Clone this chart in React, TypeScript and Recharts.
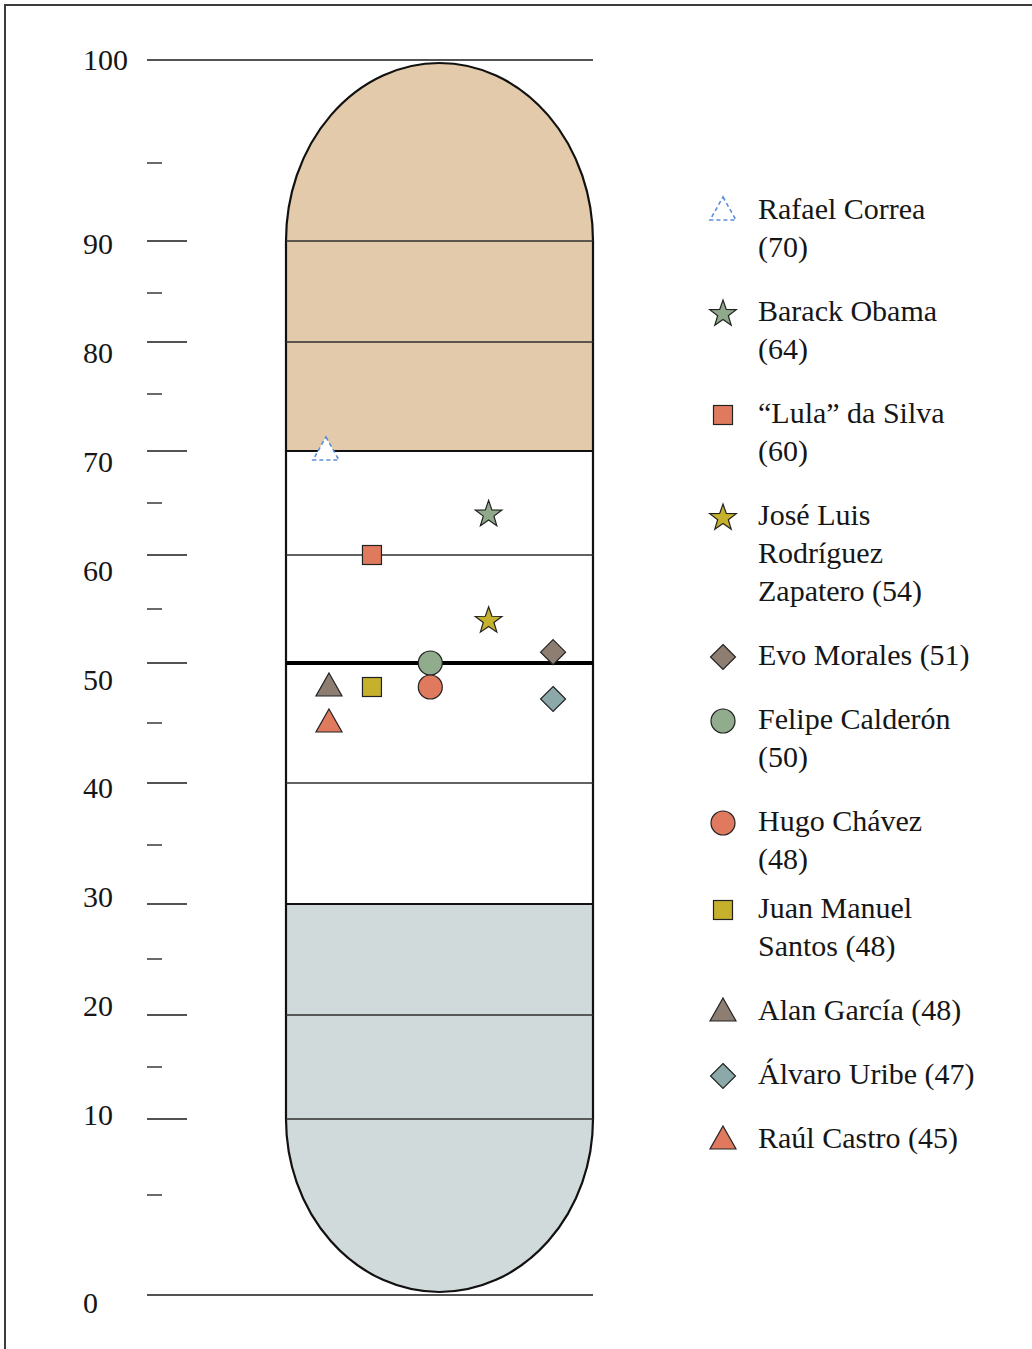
import React from 'react';
import { ScatterChart, Scatter, XAxis, YAxis, ReferenceArea, ReferenceLine, Legend } from 'recharts';

// ---------- data ----------
const LEADERS = [
  'Rafael Correa',
  'Barack Obama',
  '“Lula” da Silva',
  'José Luis Rodríguez Zapatero',
  'Evo Morales',
  'Felipe Calderón',
  'Hugo Chávez',
  'Juan Manuel Santos',
  'Alan García',
  'Álvaro Uribe',
  'Raúl Castro',
];
const APPROVAL = [70, 64, 60, 54, 51, 50, 48, 48, 48, 47, 45];
// horizontal placement inside the capsule (0-100)
const COLUMN = [13, 66, 28, 66, 87, 47, 47, 28, 14, 87, 14];
const SYMBOLS = ['triangle', 'star', 'square', 'star', 'diamond', 'circle', 'circle', 'square', 'triangle', 'diamond', 'triangle'];
// words per legend line
const LEGEND_WRAP = [[2, 1], [2, 1], [3, 1], [2, 1, 2], [3], [2, 1], [2, 1], [2, 2], [3], [3], [3]];

const MAJOR_TICKS = [0, 10, 20, 30, 40, 50, 60, 70, 80, 90, 100];
const MINOR_TICKS = [5, 15, 25, 35, 45, 55, 65, 75, 85, 95];
const GRID_LINES = [10, 20, 30, 40, 50, 60, 70, 80, 90];
// relative spacing of each 5-point step of the (non-linear) scale, bottom to top
const SCALE_GAPS = [100, 76, 52, 52, 56, 55, 59, 62, 60, 60, 54, 54, 52, 52, 57, 52, 49, 52, 78, 103];
// positions of the number labels as fraction of the axis height
const LABEL_KNOTS: [number, number][] = [[0, -0.0065], [10, 0.1457], [90, 0.851], [100, 1]];

// ---------- styles ----------
const W = 1032;
const H = 1349;
const AXIS_W = 1;
const MARGIN = { top: 60, right: 439, bottom: 54, left: 286 - 2 * AXIS_W };
const PLOT_RIGHT = W - MARGIN.right;
const FONT = '"Liberation Serif", "Times New Roman", serif';
const TEXT = '#161616';
const TAN = '#E3CAAA';
const BLUE = '#D1DADA';
const OUTLINE = '#111111';
const AXIS_X = 147;
const MAJOR_LEN = 40;
const MINOR_LEN = 15;
const LABEL_X = 83;
const CAP_GAP = 3;
const FILLS = ['#FFFFFF', '#8FA98A', '#E07A5F', '#C5B12C', '#8E7E72', '#90AC8C', '#E07A5F', '#C5B12C', '#8E7E72', '#8AA9A8', '#E07A5F'];
const STROKES = ['#5B8ED8', '#222', '#222', '#222', '#222', '#222', '#222', '#222', '#222', '#222', '#222'];
const DASHES = ['4 3', undefined, undefined, undefined, undefined, undefined, undefined, undefined, undefined, undefined, undefined];
const LEGEND_GAP = [26, 26, 26, 26, 26, 26, 11, 26, 26, 26, 0];

// ---------- piecewise-linear scale (d3-like interface) ----------
type Knot = [number, number];
function piecewiseScale(knots: Knot[]): any {
  let dom = [knots[0][0], knots[knots.length - 1][0]];
  let rng = [0, 1];
  const frac = (v: number) => {
    let i = 0;
    while (i < knots.length - 2 && v > knots[i + 1][0]) i++;
    const [v0, f0] = knots[i];
    const [v1, f1] = knots[i + 1];
    return f0 + ((v - v0) / (v1 - v0)) * (f1 - f0);
  };
  const scale: any = (v: any) => {
    const n = typeof v === 'number' ? v : Number(v);
    if (v == null || Number.isNaN(n)) return NaN;
    return rng[0] + frac(n) * (rng[1] - rng[0]);
  };
  scale.domain = (...args: any[]) => {
    if (!args.length) return dom.slice();
    dom = Array.from(args[0], Number);
    return scale;
  };
  scale.range = (...args: any[]) => {
    if (!args.length) return rng.slice();
    rng = Array.from(args[0], Number);
    return scale;
  };
  scale.copy = () => piecewiseScale(knots).domain(dom).range(rng);
  scale.ticks = (count = 10) => {
    const lo = Math.min(dom[0], dom[1]);
    const hi = Math.max(dom[0], dom[1]);
    const step = (hi - lo) / count;
    return Array.from({ length: count + 1 }, (_, i) => lo + i * step);
  };
  return scale;
}

const totalGap = SCALE_GAPS.reduce((a, b) => a + b, 0);
const MAIN_KNOTS: Knot[] = [[0, 0]];
SCALE_GAPS.reduce((acc, g, i) => {
  const next = acc + g;
  MAIN_KNOTS.push([(i + 1) * 5, next / totalGap]);
  return next;
}, 0);

const mainScale = piecewiseScale(MAIN_KNOTS);
const labelScale = piecewiseScale(LABEL_KNOTS);
const MAIN_TICKS = [...MAJOR_TICKS, ...MINOR_TICKS].sort((a, b) => a - b);

// ---------- marks ----------
function starPoints(cx: number, cy: number, R: number, r: number) {
  const pts: string[] = [];
  for (let k = 0; k < 10; k++) {
    const rad = k % 2 === 0 ? R : r;
    const a = -Math.PI / 2 + (k * Math.PI) / 5;
    pts.push(`${cx + rad * Math.cos(a)},${cy + rad * Math.sin(a)}`);
  }
  return pts.join(' ');
}

function Marker({ i, cx, cy }: { i: number; cx: number; cy: number }) {
  const common = {
    fill: FILLS[i],
    stroke: STROKES[i],
    strokeWidth: DASHES[i] ? 1.6 : 1.2,
    strokeDasharray: DASHES[i],
    strokeLinejoin: 'miter' as const,
  };
  switch (SYMBOLS[i]) {
    case 'triangle':
      return <polygon points={`${cx},${cy - 14} ${cx + 13},${cy + 9} ${cx - 13},${cy + 9}`} {...common} />;
    case 'star':
      return <polygon points={starPoints(cx, cy + 1, 14, 5.6)} {...common} />;
    case 'square':
      return <rect x={cx - 9.5} y={cy - 9.5} width={19} height={19} {...common} />;
    case 'diamond':
      return <polygon points={`${cx},${cy - 12.5} ${cx + 12.5},${cy} ${cx},${cy + 12.5} ${cx - 12.5},${cy}`} {...common} />;
    default:
      return <circle cx={cx} cy={cy} r={12} {...common} />;
  }
}

// ---------- capsule pieces ----------
const TopCap = (p: any) => {
  const { x, y, width, height } = p;
  const yb = y + height;
  const d = `M${x},${yb} A${width / 2},${height - CAP_GAP} 0 0 1 ${x + width},${yb}`;
  return (
    <g>
      <path d={`${d} Z`} fill={TAN} stroke="none" />
      <path d={d} fill="none" stroke={OUTLINE} strokeWidth={2.2} />
    </g>
  );
};

const BottomCap = (p: any) => {
  const { x, y, width, height } = p;
  const d = `M${x},${y} A${width / 2},${height - CAP_GAP} 0 0 0 ${x + width},${y}`;
  return (
    <g>
      <path d={`${d} Z`} fill={BLUE} stroke="none" />
      <path d={d} fill="none" stroke={OUTLINE} strokeWidth={2.2} />
    </g>
  );
};

const Sides = (p: any) => {
  const { x, y, width, height } = p;
  return (
    <g>
      <line x1={x} x2={x} y1={y} y2={y + height} stroke={OUTLINE} strokeWidth={2.2} />
      <line x1={x + width} x2={x + width} y1={y} y2={y + height} stroke={OUTLINE} strokeWidth={2.2} />
    </g>
  );
};

const Band = (fill: string) => (p: any) => (
  <rect x={p.x} y={p.y} width={p.width} height={p.height} fill={fill} stroke="none" />
);

// ---------- axis ticks ----------
const AxisTick = (props: any) => {
  const { y, payload } = props;
  const v = payload.value;
  const major = v % 10 === 0;
  const end = v === 0 || v === 100 ? PLOT_RIGHT : AXIS_X + (major ? MAJOR_LEN : MINOR_LEN);
  return <line x1={AXIS_X} x2={end} y1={y} y2={y} stroke="#1a1a1a" strokeWidth={1.3} />;
};

const LabelTick = (props: any) => {
  const { y, payload } = props;
  return (
    <text x={LABEL_X} y={y} dy={10} textAnchor="start" fontFamily={FONT} fontSize={30} fill={TEXT}>
      {payload.value}
    </text>
  );
};

// ---------- legend ----------
const LegendBox = () => (
  <div style={{ fontFamily: FONT, fontSize: 30, lineHeight: '38px', color: TEXT, textAlign: 'left' }}>
    {LEADERS.map((name, i) => {
      const words = `${name} (${APPROVAL[i]})`.split(' ');
      const lines: string[] = [];
      let k = 0;
      for (const n of LEGEND_WRAP[i]) {
        lines.push(words.slice(k, k + n).join(' '));
        k += n;
      }
      return (
        <div key={name} style={{ display: 'flex', alignItems: 'flex-start', marginBottom: LEGEND_GAP[i] }}>
          <svg width={30} height={30} style={{ flex: 'none', marginTop: 6, overflow: 'visible' }}>
            <Marker i={i} cx={15} cy={15} />
          </svg>
          <div style={{ marginLeft: 20, whiteSpace: 'nowrap' }}>
            {lines.map((l, j) => (
              <div key={j}>{l}</div>
            ))}
          </div>
        </div>
      );
    })}
  </div>
);

const gridStyle = (v: number) =>
  v === 50 ? { stroke: '#000', strokeWidth: 4 } : v === 70 || v === 30 ? { stroke: OUTLINE, strokeWidth: 2.2 } : { stroke: '#2e2e2e', strokeWidth: 1.3 };

export default function App() {
  return (
    <div style={{ position: 'absolute', left: 0, top: 0, width: W, height: H, background: '#fff' }}>
      <ScatterChart width={W} height={H} margin={MARGIN} style={{ fontFamily: FONT }}>
        <XAxis type="number" dataKey="x" domain={[0, 100]} hide />
        <YAxis
          yAxisId="main"
          type="number"
          dataKey="y"
          domain={[0, 100]}
          allowDataOverflow
          scale={mainScale}
          ticks={MAIN_TICKS}
          interval={0}
          width={AXIS_W}
          axisLine={false}
          tickLine={false}
          tick={AxisTick}
        />
        <YAxis
          yAxisId="labels"
          type="number"
          dataKey="y"
          domain={[0, 100]}
          allowDataOverflow
          scale={labelScale}
          ticks={MAJOR_TICKS}
          interval={0}
          width={AXIS_W}
          axisLine={false}
          tickLine={false}
          tick={LabelTick}
        />
        <ReferenceArea yAxisId="main" y1={90} y2={100} shape={TopCap} ifOverflow="visible" />
        <ReferenceArea yAxisId="main" y1={70} y2={90} shape={Band(TAN)} ifOverflow="visible" />
        <ReferenceArea yAxisId="main" y1={10} y2={30} shape={Band(BLUE)} ifOverflow="visible" />
        <ReferenceArea yAxisId="main" y1={0} y2={10} shape={BottomCap} ifOverflow="visible" />
        <ReferenceArea yAxisId="main" y1={10} y2={90} shape={Sides} ifOverflow="visible" />
        {GRID_LINES.map((v) => (
          <ReferenceLine key={v} yAxisId="main" y={v} {...gridStyle(v)} ifOverflow="visible" />
        ))}
        <Legend
          layout="horizontal"
          align="center"
          verticalAlign="middle"
          wrapperStyle={{ left: 708, top: 190, width: 320 }}
          content={() => <LegendBox />}
        />
        {LEADERS.map((name, i) => (
          <Scatter
            key={name}
            name={name}
            yAxisId="main"
            data={[{ x: COLUMN[i], y: APPROVAL[i] }]}
            isAnimationActive={false}
            shape={(p: any) => <Marker i={i} cx={p.cx} cy={p.cy} />}
          />
        ))}
      </ScatterChart>
      <div
        style={{
          position: 'absolute',
          left: 4,
          top: 4,
          right: 0,
          bottom: 0,
          borderTop: '2px solid #3c3c3c',
          borderLeft: '2px solid #3c3c3c',
          pointerEvents: 'none',
        }}
      />
    </div>
  );
}
